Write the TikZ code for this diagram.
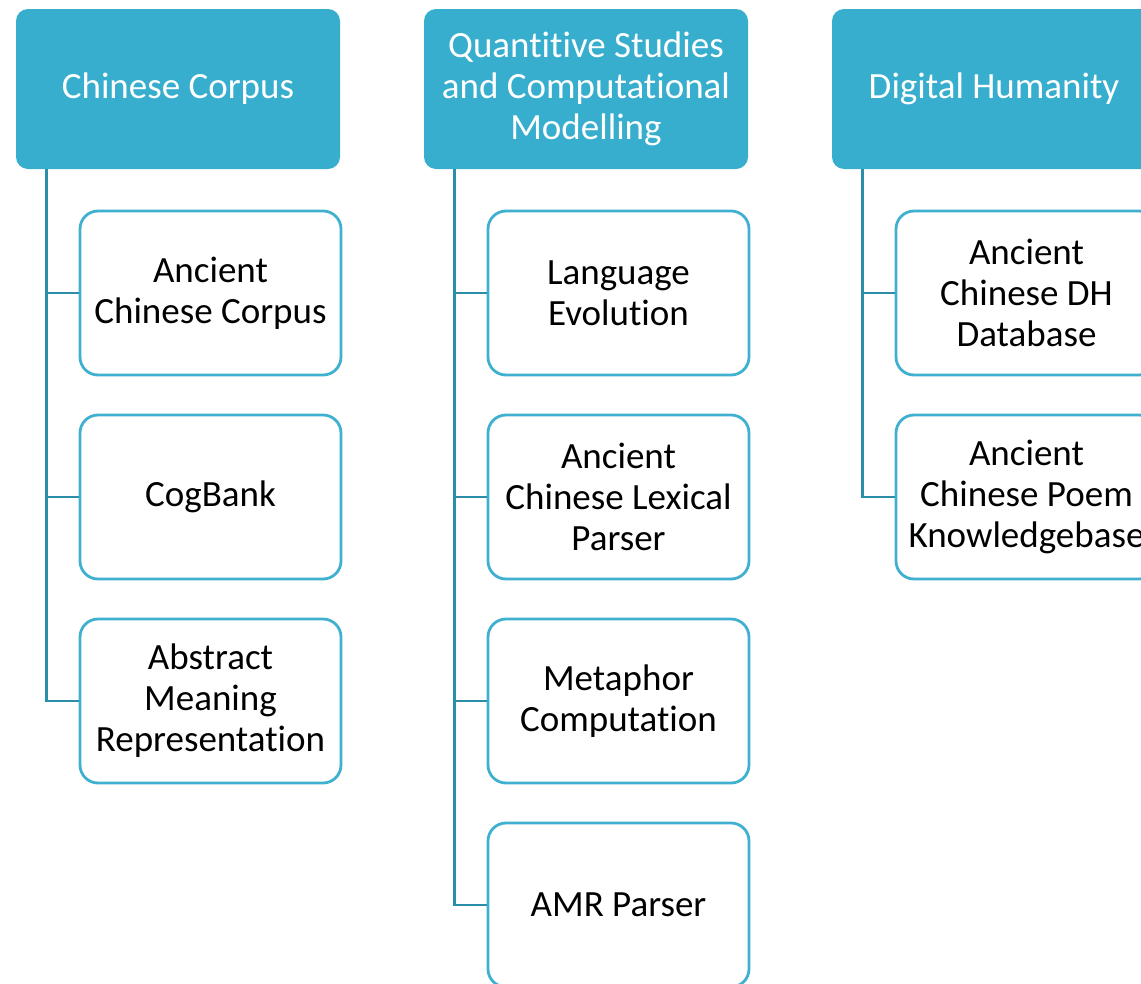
\documentclass[tikz,border=0pt]{standalone}
\usepackage{fontspec}
\setmainfont{Carlito}[Ligatures={NoCommon,NoRequired,NoContextual}]
\usetikzlibrary{calc}
\definecolor{headfill}{HTML}{37AECD}
\definecolor{childline}{HTML}{3FB0D0}
\definecolor{connline}{HTML}{2B8EA9}
\tikzset{
  head/.style={rectangle, rounded corners=12pt, fill=headfill, draw=none,
    minimum width=324pt, minimum height=160pt, text=white, align=center,
    font=\fontsize{37}{41}\selectfont, inner sep=0pt},
  child/.style={rectangle, rounded corners=18pt, fill=white, draw=childline,
    line width=2.8pt, minimum width=261pt, minimum height=164pt, text=black,
    align=center, font=\fontsize{37}{41}\selectfont, inner sep=0pt},
  conn/.style={draw=connline, line width=2.8pt}
}
\begin{document}
\begin{tikzpicture}[x=1pt,y=-1pt]
\useasboundingbox (0,0) rectangle (1141,983);
% headers
\node[head] (h1) at (178,89) {Chinese Corpus};
\node[head] (h2) at (586,89) {Quantitive Studies\\and Computational\\Modelling};
\node[head] (h3) at (994,89) {Digital Humanity};
% column 1
\node[child] (c11) at (210.5,293) {Ancient\\Chinese Corpus};
\node[child] (c12) at (210.5,497) {CogBank};
\node[child] (c13) at (210.5,701) {Abstract\\Meaning\\Representation};
% column 2
\node[child] (c21) at (618.5,293) {Language\\Evolution};
\node[child] (c22) at (618.5,497) {Ancient\\Chinese Lexical\\Parser};
\node[child] (c23) at (618.5,701) {Metaphor\\Computation};
\node[child] (c24) at (618.5,905) {AMR Parser};
% column 3
\node[child] (c31) at (1026.5,293) {Ancient\\Chinese DH\\Database};
\node[child] (c32) at (1026.5,497) {Ancient\\Chinese Poem\\Knowledgebase};
% connectors
\coordinate (s1) at ($(h1.south west)+(31,0)$);
\coordinate (s2) at ($(h2.south west)+(31,0)$);
\coordinate (s3) at ($(h3.south west)+(31,0)$);
\foreach \c in {c11,c12,c13} \draw[conn] (s1) |- (\c.west);
\foreach \c in {c21,c22,c23,c24} \draw[conn] (s2) |- (\c.west);
\foreach \c in {c31,c32} \draw[conn] (s3) |- (\c.west);
\end{tikzpicture}
\end{document}
